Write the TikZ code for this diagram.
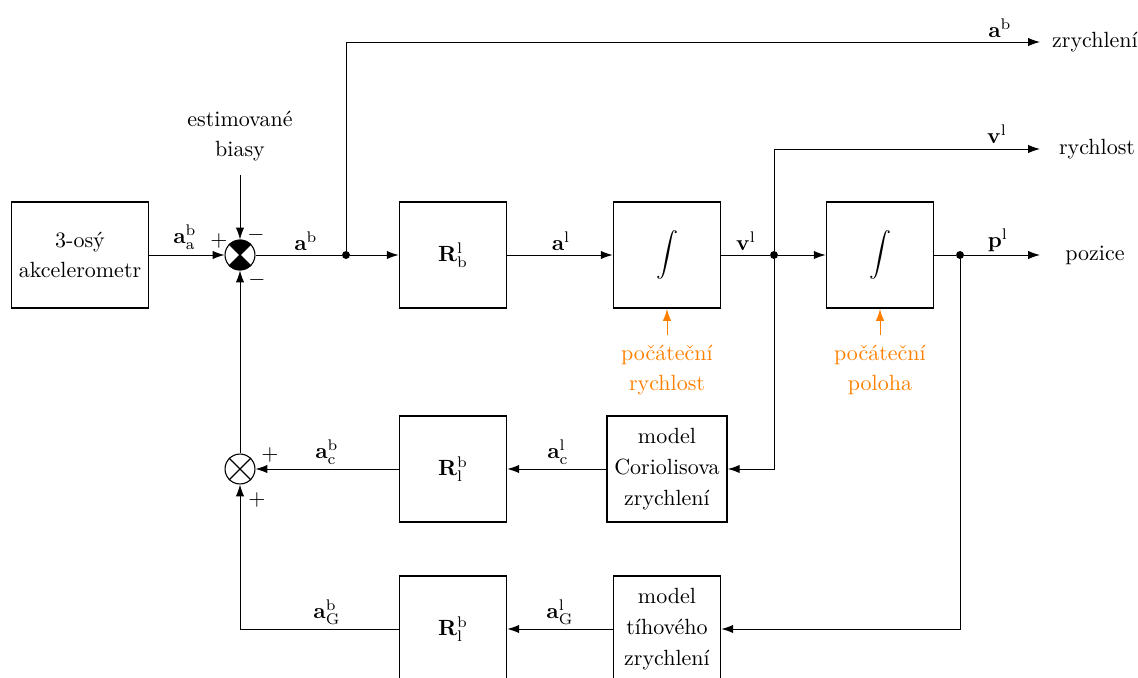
\documentclass[tikz,border=0pt]{standalone}
\usetikzlibrary{arrows.meta}
\begin{document}
\begin{tikzpicture}[x=0.4545pt,y=-0.4545pt,
  every node/.style={font=\fontsize{10}{14}\selectfont},
  blk/.style={draw,line width=0.8pt,minimum width=48.6pt,minimum height=48.2pt,inner sep=0pt,align=center},
  wblk/.style={blk,minimum width=54.5pt},
  abox/.style={blk,minimum width=62.3pt},
  sumc/.style={draw,circle,minimum size=13.6pt,inner sep=0pt,line width=0.5pt},
  con/.style={line width=0.45pt},
  arr/.style={con,-{Latex[length=5.4pt,width=3.8pt]}},
  dot/.style={circle,fill,inner sep=0pt,minimum size=3.6pt},
  lbl/.style={inner sep=0pt},
  org/.style={color={rgb,255:red,255;green,128;blue,0}}
]
\useasboundingbox (0,0) rectangle (1138,678);
\clip (0,0) rectangle (1138,678);
% blocks
\node[abox] (acc) at (80,255) {3-osý\\akcelerometr};
\node[sumc] (s1) at (240,255) {};
\fill (s1.center) -- (s1.45) arc[start angle=45,end angle=135,radius=6.8pt] -- cycle;
\fill (s1.center) -- (s1.225) arc[start angle=225,end angle=315,radius=6.8pt] -- cycle;
\draw[line width=0.5pt] (s1.45) -- (s1.225) (s1.135) -- (s1.315);
\node[blk] (R1) at (453,255) {$\mathbf{R}^{\mathrm{l}}_{\mathrm{b}}$};
\node[blk] (I1) at (667,255) {$\displaystyle\int$};
\node[blk] (I2) at (880,255) {$\displaystyle\int$};
\node[dot] (d1) at (346,255) {};
\node[dot] (d2) at (774,255) {};
\node[dot] (d3) at (960,255) {};
\coordinate (oA) at (1040,42);
\coordinate (oV) at (1040,149);
\coordinate (oP) at (1040,255);
\node[lbl] (tA) at (1095,42) {zrychlení};
\node[lbl] (tV) at (1097,149) {rychlost};
\node[lbl] (tP) at (1095,255) {pozice};
\node[align=center,inner sep=0pt] (bias) at (240,136) {estimované\\biasy};
\coordinate (bs) at (240,175);
\node[wblk] (cor) at (667,469) {model\\Coriolisova\\zrychlení};
\node[blk] (R2) at (453,469) {$\mathbf{R}^{\mathrm{b}}_{\mathrm{l}}$};
\node[sumc] (s2) at (240,469) {};
\draw[line width=0.5pt] (s2.45) -- (s2.225) (s2.135) -- (s2.315);
\node[blk] (grav) at (667,629) {model\\tíhového\\zrychlení};
\node[blk] (R3) at (453,629) {$\mathbf{R}^{\mathrm{b}}_{\mathrm{l}}$};
% orange initial conditions
\node[org,align=center,inner sep=0pt] (ic1) at (667,370) {počáteční\\rychlost};
\node[org,align=center,inner sep=0pt] (ic2) at (880,370) {počáteční\\poloha};
\coordinate (ic1a) at (667,335);
\coordinate (ic2a) at (880,335);
\draw[arr,org] (ic1a) -- (I1.south);
\draw[arr,org] (ic2a) -- (I2.south);
% connectors
\draw[arr] (acc) -- (s1);
\draw[arr] (bs) -- (s1.north);
\draw[con] (s1) -- (d1);
\draw[arr] (d1) -- (R1);
\draw[arr] (d1) |- (oA);
\draw[arr] (R1) -- (I1);
\draw[con] (I1) -- (d2);
\draw[arr] (d2) -- (I2);
\draw[arr] (d2) |- (oV);
\draw[arr] (d2) |- (cor.east);
\draw[con] (I2) -- (d3);
\draw[arr] (d3) -- (oP);
\draw[arr] (d3) |- (grav.east);
\draw[arr] (cor) -- (R2);
\draw[arr] (R2) -- (s2);
\draw[arr] (grav) -- (R3);
\draw[arr] (R3) -| (s2.south);
\draw[arr] (s2) -- (s1.south);
% labels
\node[lbl] at (185,237) {$\mathbf{a}^{\mathrm{b}}_{\mathrm{a}}$};
\node[lbl] at (219,241) {$+$};
\node[lbl] at (256,235) {$-$};
\node[lbl] at (257,280) {$-$};
\node[lbl] at (306,241) {$\mathbf{a}^{\mathrm{b}}$};
\node[lbl] at (561,241) {$\mathbf{a}^{\mathrm{l}}$};
\node[lbl] at (746,241) {$\mathbf{v}^{\mathrm{l}}$};
\node[lbl] at (998,240) {$\mathbf{p}^{\mathrm{l}}$};
\node[lbl] at (1000,28) {$\mathbf{a}^{\mathrm{b}}$};
\node[lbl] at (997,134) {$\mathbf{v}^{\mathrm{l}}$};
\node[lbl] at (327,452) {$\mathbf{a}^{\mathrm{b}}_{\mathrm{c}}$};
\node[lbl] at (558,452) {$\mathbf{a}^{\mathrm{l}}_{\mathrm{c}}$};
\node[lbl] at (270,455) {$+$};
\node[lbl] at (257,500) {$+$};
\node[lbl] at (327,612) {$\mathbf{a}^{\mathrm{b}}_{\mathrm{G}}$};
\node[lbl] at (560,612) {$\mathbf{a}^{\mathrm{l}}_{\mathrm{G}}$};
\end{tikzpicture}
\end{document}
